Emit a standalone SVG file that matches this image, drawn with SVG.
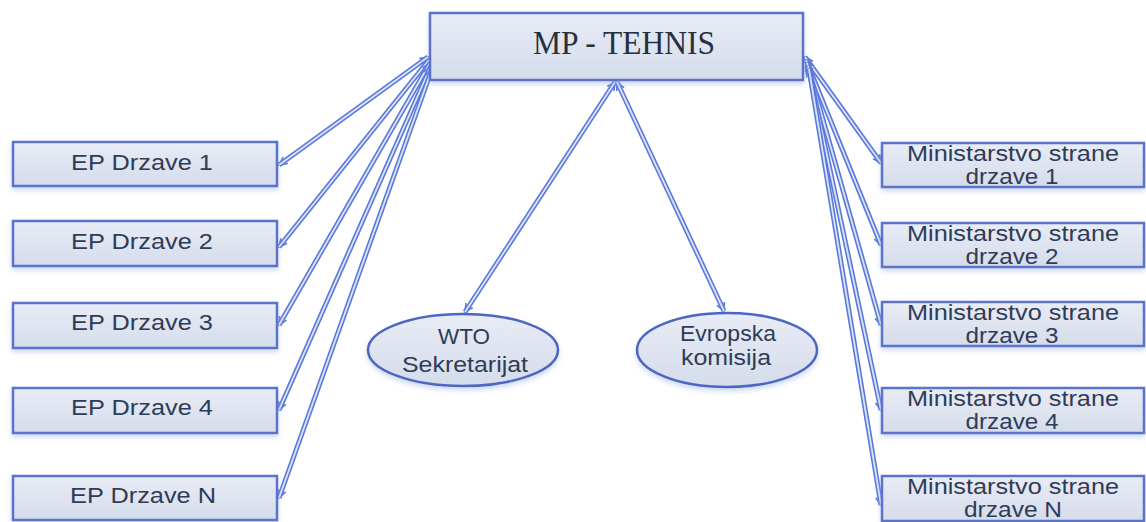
<svg xmlns="http://www.w3.org/2000/svg" width="1146" height="522" viewBox="0 0 1146 522">
<style>
.box{fill:url(#g);stroke:#5b73cc;stroke-width:2.5;filter:url(#sh)}
.ell{fill:url(#g);stroke:#4e66c4;stroke-width:2.5;filter:url(#sh)}
.t{font-family:"Liberation Sans",Arial,sans-serif;font-size:22px;fill:#2f3c57;text-anchor:middle}
.tt{font-family:"Liberation Serif","Times New Roman",serif;font-size:34px;fill:#26303f;text-anchor:middle}
.out{fill:none;stroke:#5a78dc;stroke-width:5;marker-start:url(#ah);marker-end:url(#ah)}
.in{fill:none;stroke:#dce4f8;stroke-width:1.8}
</style>
<defs>
<linearGradient id="g" x1="0" y1="0" x2="0" y2="1">
<stop offset="0" stop-color="#e8ecf6"/>
<stop offset="1" stop-color="#d5dcea"/>
</linearGradient>
<filter id="sh" x="-10%" y="-20%" width="120%" height="150%">
<feDropShadow dx="0" dy="3" stdDeviation="2.5" flood-color="#9fb3e6" flood-opacity="0.5"/>
</filter>
<marker id="ah" viewBox="0 0 10 10" refX="9" refY="5" markerWidth="10" markerHeight="10" markerUnits="userSpaceOnUse" orient="auto-start-reverse">
<path d="M1,1 L9,5 L1,9" fill="none" stroke="#5a78dc" stroke-width="1.6"/>
</marker>
</defs>
<rect width="1146" height="522" fill="#ffffff"/>

<g id="connectors">
<path class="out" d="M428,57 L279,165"/><path class="in" d="M428,57 L279,165"/>
<path class="out" d="M429,60 L279,247"/><path class="in" d="M429,60 L279,247"/>
<path class="out" d="M430,63 L279,325"/><path class="in" d="M430,63 L279,325"/>
<path class="out" d="M431,66 L279,410"/><path class="in" d="M431,66 L279,410"/>
<path class="out" d="M432,69 L279,498"/><path class="in" d="M432,69 L279,498"/>
<path class="out" d="M805,57 L881,163"/><path class="in" d="M805,57 L881,163"/>
<path class="out" d="M806,60 L881,245"/><path class="in" d="M806,60 L881,245"/>
<path class="out" d="M807,63 L881,325"/><path class="in" d="M807,63 L881,325"/>
<path class="out" d="M808,66 L881,410"/><path class="in" d="M808,66 L881,410"/>
<path class="out" d="M809,69 L881,505"/><path class="in" d="M809,69 L881,505"/>
<path class="out" d="M615,82 L465,312"/><path class="in" d="M615,82 L465,312"/>
<path class="out" d="M617,82 L724,311"/><path class="in" d="M617,82 L724,311"/>
</g>

<g id="mp-tehnis">
<rect class="box" x="430" y="13" width="373" height="67"/>
<text class="tt" x="624" y="54" textLength="182" lengthAdjust="spacingAndGlyphs">MP - TEHNIS</text>
</g>

<g id="ep1"><rect class="box" x="13" y="142" width="264" height="44"/><text class="t" x="142" y="170" textLength="142" lengthAdjust="spacingAndGlyphs">EP Drzave 1</text></g>
<g id="ep2"><rect class="box" x="13" y="221" width="264" height="45"/><text class="t" x="142" y="249" textLength="142" lengthAdjust="spacingAndGlyphs">EP Drzave 2</text></g>
<g id="ep3"><rect class="box" x="13" y="303" width="264" height="45"/><text class="t" x="142" y="330" textLength="142" lengthAdjust="spacingAndGlyphs">EP Drzave 3</text></g>
<g id="ep4"><rect class="box" x="13" y="388" width="264" height="45"/><text class="t" x="142" y="415" textLength="142" lengthAdjust="spacingAndGlyphs">EP Drzave 4</text></g>
<g id="epN"><rect class="box" x="13" y="476" width="264" height="44"/><text class="t" x="143" y="503" textLength="146" lengthAdjust="spacingAndGlyphs">EP Drzave N</text></g>

<g id="ms1"><rect class="box" x="882" y="143" width="262" height="44"/><text class="t" x="1013" y="161" textLength="212" lengthAdjust="spacingAndGlyphs">Ministarstvo strane</text><text class="t" x="1012" y="184" textLength="93" lengthAdjust="spacingAndGlyphs">drzave 1</text></g>
<g id="ms2"><rect class="box" x="882" y="223" width="262" height="44"/><text class="t" x="1013" y="241" textLength="212" lengthAdjust="spacingAndGlyphs">Ministarstvo strane</text><text class="t" x="1012" y="264" textLength="93" lengthAdjust="spacingAndGlyphs">drzave 2</text></g>
<g id="ms3"><rect class="box" x="882" y="302" width="262" height="44"/><text class="t" x="1013" y="320" textLength="212" lengthAdjust="spacingAndGlyphs">Ministarstvo strane</text><text class="t" x="1012" y="343" textLength="93" lengthAdjust="spacingAndGlyphs">drzave 3</text></g>
<g id="ms4"><rect class="box" x="882" y="388" width="262" height="45"/><text class="t" x="1013" y="406" textLength="212" lengthAdjust="spacingAndGlyphs">Ministarstvo strane</text><text class="t" x="1012" y="429" textLength="93" lengthAdjust="spacingAndGlyphs">drzave 4</text></g>
<g id="msN"><rect class="box" x="882" y="476" width="262" height="45"/><text class="t" x="1013" y="494" textLength="212" lengthAdjust="spacingAndGlyphs">Ministarstvo strane</text><text class="t" x="1013" y="517" textLength="98" lengthAdjust="spacingAndGlyphs">drzave N</text></g>

<g id="wto"><ellipse class="ell" cx="463" cy="350" rx="95" ry="36"/><text class="t" x="464" y="344" textLength="52" lengthAdjust="spacingAndGlyphs">WTO</text><text class="t" x="465" y="372" textLength="126" lengthAdjust="spacingAndGlyphs">Sekretarijat</text></g>
<g id="ek"><ellipse class="ell" cx="727" cy="350" rx="90" ry="37"/><text class="t" x="728" y="341" textLength="96" lengthAdjust="spacingAndGlyphs">Evropska</text><text class="t" x="726" y="365" textLength="90" lengthAdjust="spacingAndGlyphs">komisija</text></g>
</svg>
